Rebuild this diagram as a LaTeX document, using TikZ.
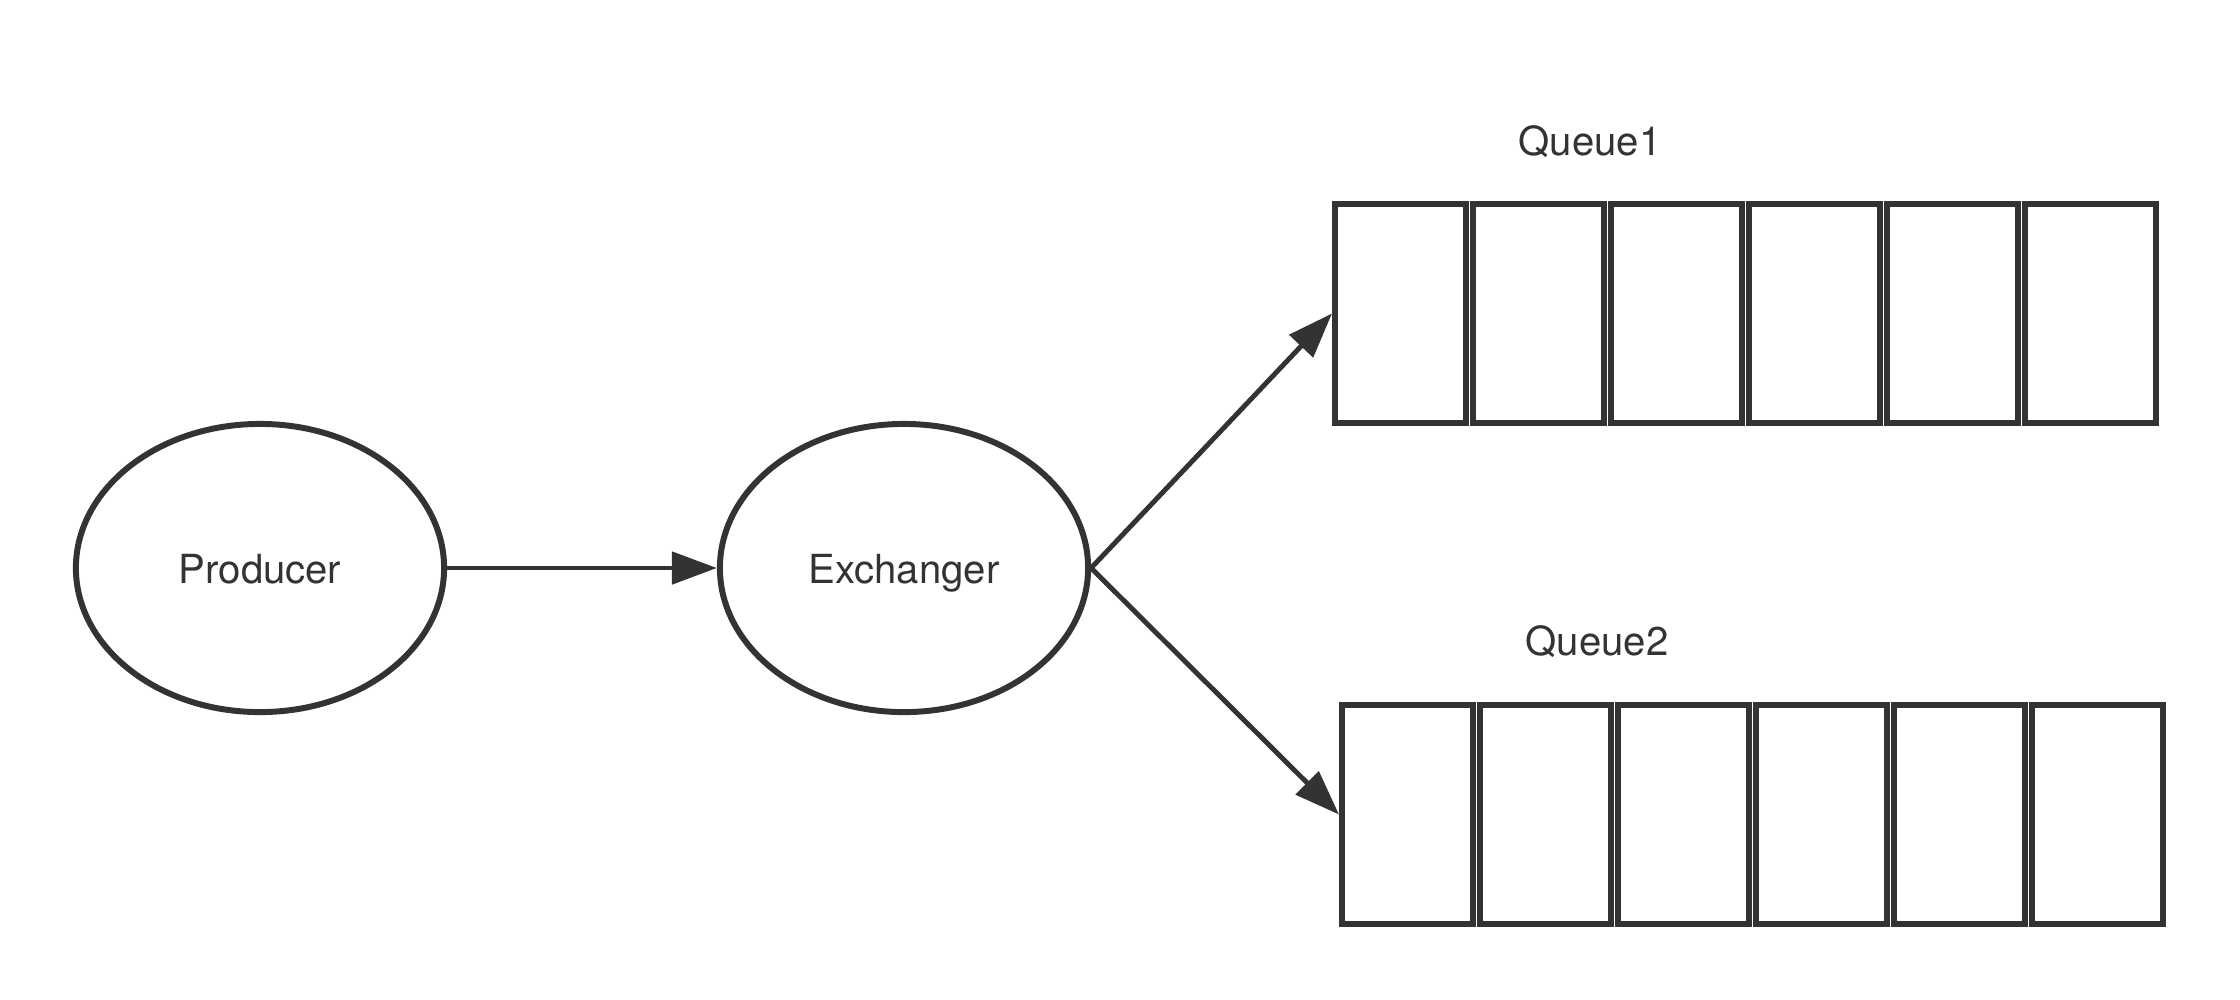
\documentclass[tikz,border=0pt]{standalone}
\usepackage{fontspec}
\setmainfont{TeX Gyre Heros}
\usetikzlibrary{shapes.geometric,arrows.meta}
\definecolor{LineGray}{HTML}{333333}

\begin{document}
\begin{tikzpicture}[x=0.01cm,y=-0.01cm,>={Triangle[length=0.45cm,width=0.32cm]},
  font=\fontsize{11.4}{13}\selectfont,
  oval/.style={ellipse,draw=LineGray,line width=1.7pt,minimum width=3.68cm,
    minimum height=2.88cm,inner sep=0pt,text=LineGray,text height=0.9em,text depth=0pt},
  cell/.style={rectangle,draw=LineGray,line width=1.7pt,minimum width=1.31cm,
    minimum height=2.18cm,inner sep=0pt},
  flow/.style={->,color=LineGray,line width=1.4pt}]
\useasboundingbox (0,0) rectangle (2240,999);
\node[oval] (prod) at (260,568) {Producer};
\node[oval] (exch) at (904,568) {Exchanger};
\foreach \i in {1,...,6} {
  \node[cell] (qa\i) at (1262.5+138*\i,313.5) {};
  \node[cell] (qb\i) at (1269.5+138*\i,814.5) {};
}
\node[anchor=base,text=LineGray] (qalabel) at (1590,155) {Queue1};
\node[anchor=base,text=LineGray] (qblabel) at (1597,655) {Queue2};
\draw[flow] (prod.east)--(exch.west);
\draw[flow] (exch.east)--(qa1.west);
\draw[flow] (exch.east)--(qb1.west);
\end{tikzpicture}
\end{document}
